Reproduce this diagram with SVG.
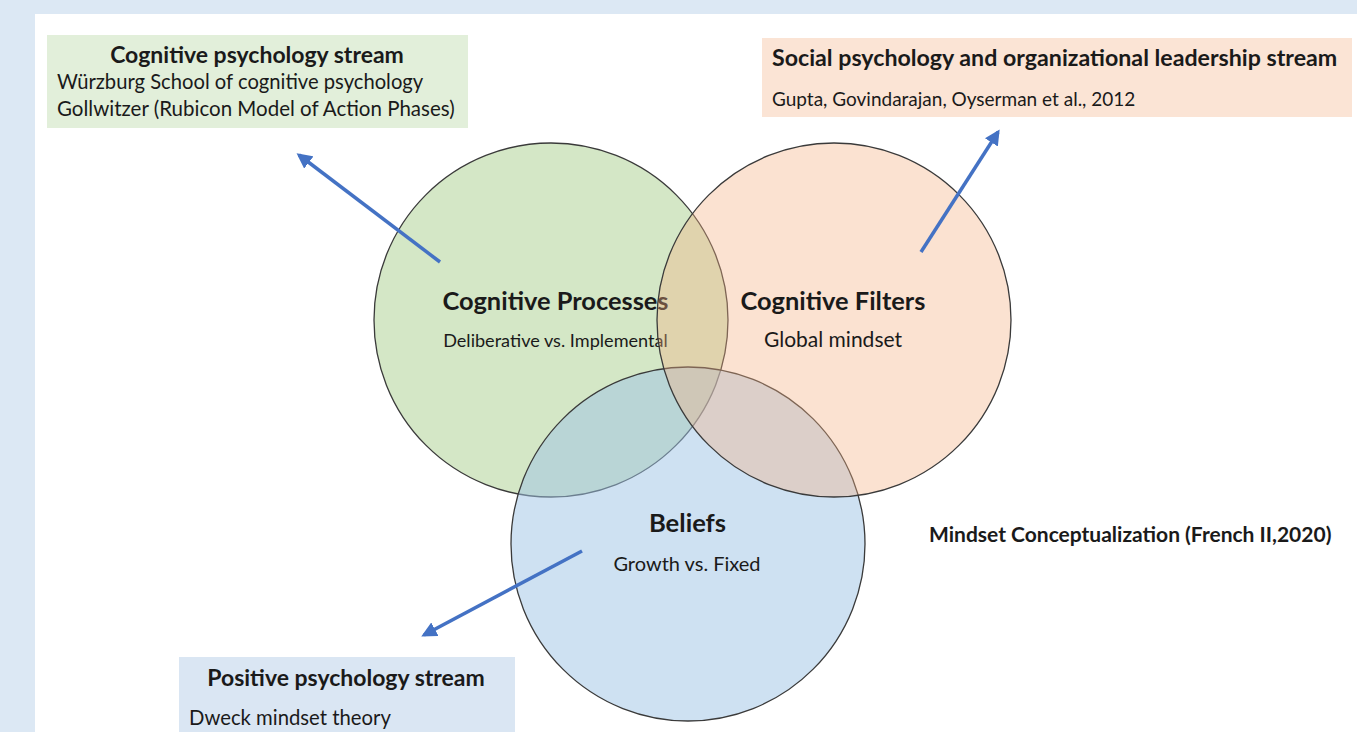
<svg xmlns="http://www.w3.org/2000/svg" width="1357" height="732" viewBox="0 0 1357 732">
  <defs>
    <style>
      .t { font-family: Lato, "Open Sans", "Liberation Sans", sans-serif; fill: #1a1a1a; }
      .b { font-weight: bold; }
      .ring { stroke: #3a3a3a; stroke-width: 1.3; }
      .link { stroke: #4472c4; stroke-width: 3.5; fill: none; marker-end: url(#head); }
    </style>
    <marker id="head" viewBox="0 0 10 10" refX="8" refY="5" markerWidth="4.4" markerHeight="4.4" orient="auto">
      <path d="M0,0 L10,5 L0,10 z" fill="#4472c4"/>
    </marker>
  </defs>

  <!-- frame -->
  <rect x="0" y="0" width="1357" height="732" fill="#dce8f4"/>
  <rect x="35" y="14" width="1322" height="718" fill="#ffffff"/>

  <!-- source boxes -->
  <g id="cognitive-stream">
    <rect x="47" y="35" width="421" height="93" fill="#e2efda"/>
    <text class="t b" x="257" y="63" font-size="23" text-anchor="middle">Cognitive psychology stream</text>
    <text class="t" x="57" y="89" font-size="20.2">Würzburg School of cognitive psychology</text>
    <text class="t" x="57" y="116" font-size="20.5">Gollwitzer (Rubicon Model of Action Phases)</text>
  </g>

  <g id="social-stream">
    <rect x="762" y="38" width="590" height="79" fill="#fbe4d5"/>
    <text class="t b" x="772" y="66" font-size="23.2">Social psychology and organizational leadership stream</text>
    <text class="t" x="772" y="106" font-size="19">Gupta, Govindarajan, Oyserman et al., 2012</text>
  </g>

  <g id="positive-stream">
    <rect x="179" y="657" width="336" height="75" fill="#dae6f3"/>
    <text class="t b" x="346" y="686" font-size="23" text-anchor="middle">Positive psychology stream</text>
    <text class="t" x="189" y="725" font-size="20.3">Dweck mindset theory</text>
  </g>

  <!-- Venn circles: green, then blue, then peach on top -->
  <g id="processes">
    <circle class="ring" cx="551" cy="320" r="177" fill="#a9d08e" fill-opacity="0.5"/>
    <text class="t b" x="555.5" y="310" font-size="25.4" text-anchor="middle">Cognitive Processes</text>
    <text class="t" x="555.5" y="347" font-size="18.1" text-anchor="middle">Deliberative vs. Implemental</text>
  </g>

  <g id="beliefs">
    <circle class="ring" cx="688" cy="544" r="177" fill="#9dc3e6" fill-opacity="0.5"/>
    <text class="t b" x="687.5" y="532" font-size="25.6" text-anchor="middle">Beliefs</text>
    <text class="t" x="687" y="571" font-size="20" text-anchor="middle">Growth vs. Fixed</text>
  </g>

  <g id="filters">
    <circle class="ring" cx="834" cy="320" r="177" fill="#f4b183" fill-opacity="0.37"/>
    <text class="t b" x="833" y="310" font-size="25.4" text-anchor="middle">Cognitive Filters</text>
    <text class="t" x="833" y="347" font-size="21" text-anchor="middle">Global mindset</text>
  </g>

  <!-- caption -->
  <g id="caption">
    <text class="t b" x="929" y="542" font-size="21">Mindset Conceptualization (French II,2020)</text>
  </g>

  <!-- connectors -->
  <g id="connectors">
    <line class="link" x1="440" y1="262" x2="299" y2="155"/>
    <line class="link" x1="921" y1="252" x2="998" y2="132"/>
    <line class="link" x1="582" y1="551" x2="424" y2="635"/>
  </g>
</svg>
